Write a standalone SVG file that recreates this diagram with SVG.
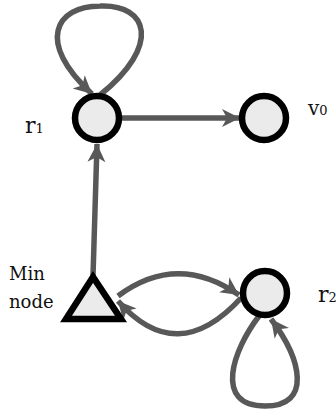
<svg xmlns="http://www.w3.org/2000/svg" width="336" height="413" viewBox="0 0 336 413">
<style>
.node{fill:#ebebeb;stroke:#000;stroke-width:6.5}
.edge{fill:none;stroke:#585858;stroke-width:5.5}
.lbl{font-family:"DejaVu Serif","Liberation Serif",serif;fill:#111}
</style>
<defs>
<marker id="arr" markerUnits="userSpaceOnUse" markerWidth="20" markerHeight="20" viewBox="0 0 20 20" refX="18" refY="10" orient="auto">
<path d="M0,1 L18,10 L0,19 L5,10 Z" fill="#585858"/>
</marker>
</defs>
<g id="edges">
<path class="edge" d="M100,95 C162,45 148,4 100,6 C56,6 35,42 92,94" marker-end="url(#arr)"/>
<path class="edge" d="M122,118 L240,118" marker-end="url(#arr)"/>
<path class="edge" d="M93,276 L97,144" marker-end="url(#arr)"/>
<path class="edge" d="M118,296 Q177,252 239,295" marker-end="url(#arr)"/>
<path class="edge" d="M241,298 Q177,368 118,301" marker-end="url(#arr)"/>
<path class="edge" d="M259,316 C233,350 213,406 265,406 C312,406 302,360 271,319" marker-end="url(#arr)"/>
</g>
<g id="r1">
<circle class="node" cx="97" cy="118" r="22"/>
<text class="lbl" x="25" y="133" font-size="22">r<tspan font-size="13">1</tspan></text>
</g>
<g id="v0">
<circle class="node" cx="264" cy="118" r="22"/>
<text class="lbl" x="308" y="115" font-size="20">v<tspan font-size="13">0</tspan></text>
</g>
<g id="min">
<polygon class="node" points="93,277 66,319 121,319" stroke-linejoin="miter"/>
<text class="lbl" x="9" y="280" font-size="18">Min</text>
<text class="lbl" x="9" y="308" font-size="18">node</text>
</g>
<g id="r2">
<circle class="node" cx="265" cy="293" r="22"/>
<text class="lbl" x="318" y="302" font-size="22">r<tspan font-size="13">2</tspan></text>
</g>
</svg>
